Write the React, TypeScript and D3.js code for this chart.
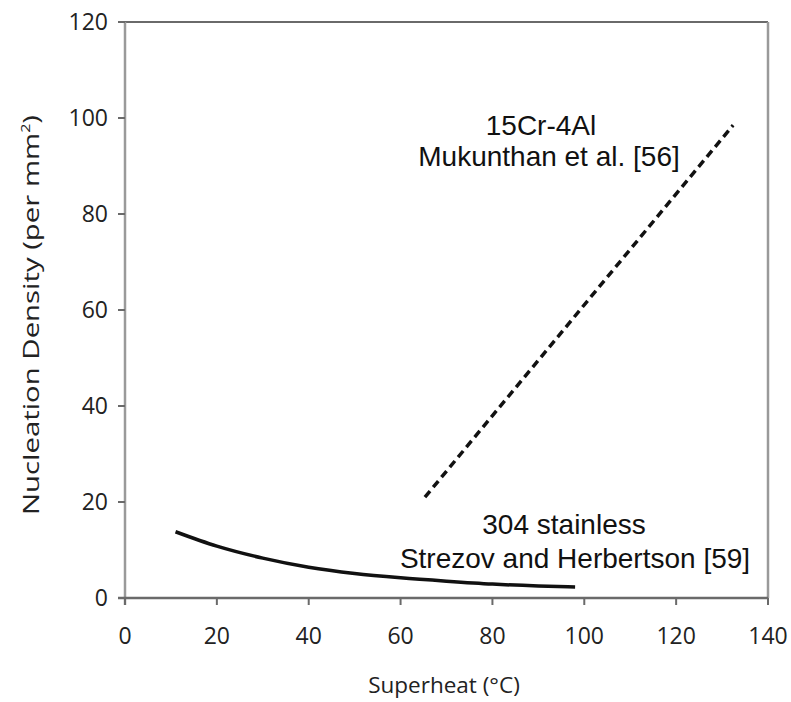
import React from "react";
import * as d3 from "d3";

const xTicks = [0, 20, 40, 60, 80, 100, 120, 140];
const yTicks = [0, 20, 40, 60, 80, 100, 120];
const steelX = [11, 20, 30, 40, 50, 60, 70, 80, 90, 98];
const steelY = [13.8, 10.8, 8.3, 6.4, 5.1, 4.2, 3.5, 2.9, 2.5, 2.3];
const crAlX = [65.3, 132.4];
const crAlY = [21, 98.5];

export default function App() {
  const W = 791, H = 702;
  const x = d3.scaleLinear().domain([0, 140]).range([125, 768]);
  const y = d3.scaleLinear().domain([0, 120]).range([598, 22]);
  const line = d3.line<[number, number]>().x(d => x(d[0])).y(d => y(d[1]));
  const steel = steelX.map((v, i) => [v, steelY[i]] as [number, number]);
  const crAl = crAlX.map((v, i) => [v, crAlY[i]] as [number, number]);
  const smooth = d3.line<[number, number]>().x(d => x(d[0])).y(d => y(d[1])).curve(d3.curveMonotoneX);
  const tickFont = "'Open Sans', sans-serif";
  const annFont = "'Liberation Sans', Arial, sans-serif";
  const axisCol = "#6a6a6a";
  const frameCol = "#9a9a9a";
  return (
    <svg width={W} height={H} style={{ position: "absolute", left: 0, top: 0, background: "#fff" }}>
      <line x1={x(0) - 7} x2={x(140)} y1={y(120)} y2={y(120)} stroke={axisCol} strokeWidth={2} />
      <line x1={x(140)} x2={x(140)} y1={y(120)} y2={y(0)} stroke={frameCol} strokeWidth={2.5} />
      <line x1={x(0)} x2={x(0)} y1={y(120)} y2={y(0) + 7} stroke={frameCol} strokeWidth={2.5} />
      <line x1={x(0) - 7} x2={x(140)} y1={y(0)} y2={y(0)} stroke={axisCol} strokeWidth={2.5} />
      {xTicks.map(t => (
        <g key={"x" + t}>
          <line x1={x(t)} x2={x(t)} y1={y(0)} y2={y(0) + 7} stroke={axisCol} strokeWidth={2} />
          <text x={x(t)} y={y(0) + 46} textAnchor="middle" fontFamily={tickFont} fontSize={23} fill="#222">{t}</text>
        </g>
      ))}
      {yTicks.map(t => (
        <g key={"y" + t}>
          <line x1={x(0) - 7} x2={x(0)} y1={y(t)} y2={y(t)} stroke={axisCol} strokeWidth={2} />
          <text x={x(0) - 17} y={y(t) + 8} textAnchor="end" fontFamily={tickFont} fontSize={23} fill="#222">{t}</text>
        </g>
      ))}
      <text x={444} y={693} textAnchor="middle" fontFamily={tickFont} fontSize={22.5} fill="#222">Superheat (°C)</text>
      <text transform="translate(39,315) rotate(-90)" textAnchor="middle" fontFamily={tickFont} fontSize={22} fill="#222"
        textLength={400} lengthAdjust="spacingAndGlyphs">
        Nucleation Density (per mm<tspan dy={-9} fontSize={12}>2</tspan><tspan dy={9}>)</tspan>
      </text>
      <path d={smooth(steel) || ""} fill="none" stroke="#111" strokeWidth={3.5} />
      <path d={line(crAl) || ""} fill="none" stroke="#111" strokeWidth={3.5} strokeDasharray="8,5" />
      <text x={541} y={135} textAnchor="middle" fontFamily={annFont} fontSize={28} fill="#111">15Cr-4Al</text>
      <text x={549} y={166} textAnchor="middle" fontFamily={annFont} fontSize={28} fill="#111">Mukunthan et al. [56]</text>
      <text x={564} y={534} textAnchor="middle" fontFamily={annFont} fontSize={28} fill="#111">304 stainless</text>
      <text x={575} y={568} textAnchor="middle" fontFamily={annFont} fontSize={28} fill="#111">Strezov and Herbertson [59]</text>
    </svg>
  );
}
